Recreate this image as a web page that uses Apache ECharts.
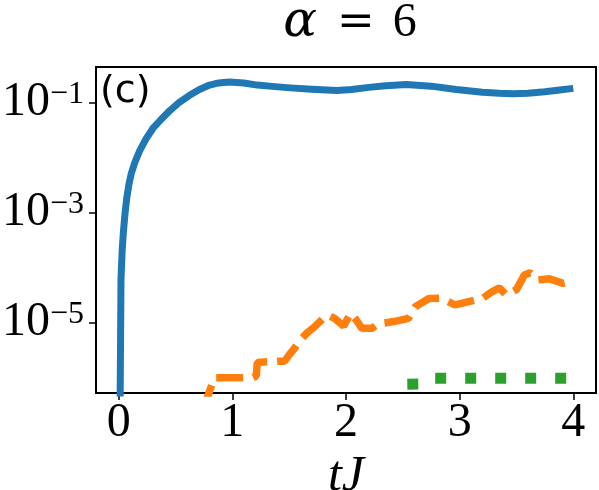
<!DOCTYPE html>
<html>
<head>
<meta charset="utf-8">
<script src="https://cdn.jsdelivr.net/npm/echarts@6/dist/echarts.min.js"></script>
<style>
  html, body { margin: 0; padding: 0; background: #fff; }
  #container { width: 599px; height: 490px; }
</style>
</head>
<body>
<div id="container"></div>
<script>
// values (y on a log scale)
var blueT = [0, 0.02, 0.03, 0.04, 0.055, 0.07, 0.09, 0.11, 0.14, 0.185, 0.24, 0.3, 0.37, 0.45, 0.53, 0.62, 0.71, 0.8, 0.88, 0.975, 1.1, 1.22, 1.35, 1.51, 1.7, 1.92, 2.05, 2.2, 2.35, 2.53, 2.75, 2.97, 3.2, 3.35, 3.47, 3.6, 3.75, 3.88, 4.0];
var blueY = [1e-10, 6.3e-5, 2.0e-4, 4.2e-4, 9.5e-4, 1.8e-3, 3.3e-3, 5.1e-3, 8.0e-3, 1.35e-2, 2.2e-2, 3.4e-2, 4.9e-2, 7.2e-2, 0.1, 0.135, 0.174, 0.209, 0.229, 0.237, 0.228, 0.209, 0.198, 0.186, 0.175, 0.166, 0.174, 0.19, 0.204, 0.214, 0.2, 0.174, 0.155, 0.148, 0.145, 0.148, 0.158, 0.17, 0.182];

var orangeT = [0.74, 0.84, 1.18, 1.21, 1.22, 1.40, 1.46, 1.50, 1.55, 1.60, 1.66, 1.72, 1.80, 1.84, 1.90, 1.98, 2.04, 2.09, 2.14, 2.23, 2.28, 2.42, 2.55, 2.61, 2.73, 2.84, 2.96, 3.09, 3.20, 3.27, 3.35, 3.41, 3.50, 3.57, 3.62, 3.69, 3.79, 3.91, 4.00];
var orangeY = [2.5e-7, 1.0e-6, 1.0e-6, 1.07e-6, 1.9e-6, 2.0e-6, 2.0e-6, 2.6e-6, 3.5e-6, 4.9e-6, 6.6e-6, 8.3e-6, 1.2e-5, 1.38e-5, 1.2e-5, 8.7e-6, 1.48e-5, 1.12e-5, 7.9e-6, 7.9e-6, 9.5e-6, 1.05e-5, 1.2e-5, 1.95e-5, 2.75e-5, 2.8e-5, 2.1e-5, 2.45e-5, 2.75e-5, 3.5e-5, 4.3e-5, 3.2e-5, 4.0e-5, 7.4e-5, 8.1e-5, 6.0e-5, 6.3e-5, 5.2e-5, 5.75e-5];

var greenT = [2.49, 2.51, 2.68, 2.74, 4.0];
var greenY = [2.5e-7, 7.6e-7, 7.7e-7, 9.8e-7, 9.8e-7];

var xTicks = [0, 1, 2, 3, 4];
var yTicks = [1e-5, 1e-3, 1e-1];

function zip(a, b) {
    var out = [];
    for (var i = 0; i < a.length; i++) out.push([a[i], b[i]]);
    return out;
}

var serif = '"Liberation Serif", "DejaVu Serif", serif';
var serif2 = '"DejaVu Serif", serif';

var myChart = echarts.init(document.getElementById('container'));

var option = {
    animation: false,
    backgroundColor: '#fff',
    title: {
        text: '{a|α}{b|=}{c|6}',
        left: 345,
        top: -7,
        textAlign: 'center',
        textStyle: {
            rich: {
                a: { fontFamily: serif2, fontStyle: 'italic', fontWeight: 'normal', fontSize: 50, color: '#000' },
                b: { fontFamily: serif2, fontWeight: 'normal', fontSize: 45, color: '#000', padding: [0, 18, 0, 20] },
                c: { fontFamily: serif, fontWeight: 'normal', fontSize: 48, color: '#000' }
            }
        }
    },
    grid: {
        left: 96, right: 3, top: 67, bottom: 97,
        outerBoundsMode: 'none',
        containLabel: false,
        show: true,
        borderColor: '#000',
        borderWidth: 2,
        backgroundColor: 'transparent'
    },
    xAxis: {
        type: 'value',
        min: -0.2,
        max: 4.2,
        name: '{i|tJ}',
        nameLocation: 'middle',
        nameGap: 52,
        nameTextStyle: {
            rich: { i: { fontFamily: serif, fontStyle: 'italic', fontSize: 50, color: '#000' } }
        },
        splitLine: { show: false },
        axisLine: { show: false, onZero: false },
        axisTick: { show: true, customValues: xTicks, length: 7, lineStyle: { color: '#000', width: 1.5 } },
        axisLabel: {
            customValues: xTicks,
            margin: 6,
            fontFamily: serif,
            fontSize: 48,
            color: '#000'
        }
    },
    yAxis: {
        type: 'log',
        logBase: 10,
        min: Math.pow(10, -6.278),
        max: Math.pow(10, -0.351),
        splitLine: { show: false },
        axisLine: { show: false, onZero: false },
        axisTick: { show: true, customValues: yTicks, length: 7, lineStyle: { color: '#000', width: 1.5 } },
        axisLabel: {
            customValues: yTicks,
            margin: 12,
            formatter: function (v) {
                var e = Math.round(Math.log10(v));
                return '{b|10}{s|\u2212' + (-e) + '}';
            },
            rich: {
                b: { fontFamily: serif, fontSize: 48, color: '#000', lineHeight: 48, padding: [6, 0, 0, 0], verticalAlign: 'bottom' },
                s: { fontFamily: serif, fontSize: 32, color: '#000', lineHeight: 38, verticalAlign: 'top' }
            }
        }
    },
    graphic: [
        {
            type: 'text',
            left: 100,
            top: 73,
            z: 100,
            style: { text: '(c)', fontFamily: '"DejaVu Sans"', fontSize: 38, fill: '#000' }
        }
    ],
    series: [
        {
            type: 'line',
            data: zip(blueT, blueY),
            showSymbol: false,
            smooth: false,
            clip: true,
            lineStyle: { color: '#1f77b4', width: 7, join: 'round' }
        },
        {
            type: 'line',
            data: zip(orangeT, orangeY),
            showSymbol: false,
            clip: true,
            lineStyle: { color: '#ff7f0e', width: 7.5, type: [27, 10], cap: 'butt' }
        },
        {
            type: 'line',
            data: zip(greenT, greenY),
            showSymbol: false,
            clip: true,
            lineStyle: { color: '#2ca02c', width: 11, type: [11, 19], cap: 'butt' }
        }
    ]
};

myChart.setOption(option);
</script>
</body>
</html>
